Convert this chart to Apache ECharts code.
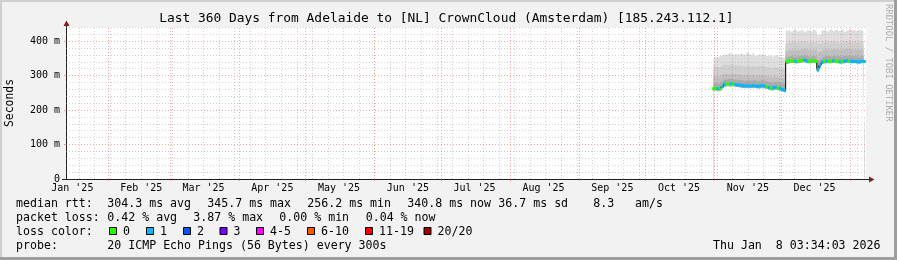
<!DOCTYPE html>
<html><head><meta charset="utf-8">
<script src="https://cdn.jsdelivr.net/npm/echarts@6/dist/echarts.min.js"></script>
<style>html,body{margin:0;padding:0;background:#f2f2f2}#c{width:897px;height:260px}</style>
</head><body><div id="c"></div>
<script>
// ---------------- data ----------------
const firstDay = '2025-10-31';   // first daily sample (one value per day)
const median = [
  262,263,262,261,268,275,276,275,276,275,274,273,272,
  271,270,271,270,270,271,270,269,270,271,269,268,
  265,263,265,266,264,262,260,257,
  340,342,343,342,341,342,343,344,346,342,341,342,343,341,
  318,331,
  340,341,342,341,342,343,342,341,340,341,342,343,342,341,342,341,340,341,342,341
];
const loss = [
  0,0,1,0,1,1,0,0,1,0,1,1,1,
  1,1,1,1,1,1,1,1,1,1,1,0,
  1,0,1,1,0,1,1,1,
  0,0,0,0,1,0,0,0,1,1,0,0,0,0,
  1,1,
  1,0,1,0,0,1,0,0,1,0,1,1,0,1,1,1,1,1,1,1
];
const smokeMin = [
  256,257,256,255,260,268,269,268,269,268,267,266,265,
  264,263,264,263,263,264,263,262,263,264,262,261,
  258,256,258,259,257,255,253,251,
  334,336,337,336,335,336,337,338,339,336,335,336,337,335,
  310,322,
  334,335,336,335,336,337,336,335,334,335,336,337,336,335,336,335,334,335,336,335
];
const smokeQ1 = [
  276,278,277,276,283,289,290,290,291,289,289,288,287,
  286,285,287,285,286,287,285,284,286,287,284,283,
  281,279,281,282,280,278,277,275,
  354,356,357,355,355,356,357,358,360,356,355,356,357,355,
  345,350,
  355,356,357,356,357,358,357,356,355,356,357,358,357,356,357,356,355,356,357,356
];
const smokeQ2 = [
  296,299,298,297,302,306,305,304,306,303,304,302,303,
  301,300,303,301,300,302,299,300,301,302,300,299,
  298,296,297,298,296,295,294,292,
  372,374,376,373,374,375,376,377,378,374,373,375,376,374,
  368,370,
  374,375,377,375,376,378,376,375,374,376,377,378,376,375,377,375,374,376,377,375
];
const smokeQ3 = [
  322,326,325,324,329,333,331,330,334,329,331,328,330,
  327,326,330,327,326,329,325,327,328,329,326,325,
  324,322,323,325,322,321,320,318,
  394,396,398,395,396,397,398,399,400,396,395,397,398,396,
  392,393,
  396,397,399,396,398,400,397,396,395,398,399,400,397,396,399,396,395,398,399,396
];
const smokeMax = [
  350,354,352,356,358,362,360,364,367,361,363,360,365,
  362,359,366,361,358,364,357,362,360,363,358,356,
  359,355,357,360,355,354,352,350,
  430,434,428,433,436,429,431,435,427,432,430,426,433,429,
  418,420,
  431,435,428,432,437,430,434,429,433,436,428,431,435,430,433,428,432,434,429,431
];
const monthLabels = ["Jan '25","Feb '25","Mar '25","Apr '25","May '25","Jun '25","Jul '25","Aug '25","Sep '25","Oct '25","Nov '25","Dec '25"];
const yTickValues = [0,100,200,300,400];
const yTickLabels = ['0','100 m','200 m','300 m','400 m'];
const lossColors = ['#26ff00','#00b8ff','#0059ff','#7e00ff','#ff00ff','#ff5500','#ff0000','#a10000'];
const lossLabels = ['0','1','2','3','4-5','6-10','11-19','20/20'];
const titleText = 'Last 360 Days from Adelaide to [NL] CrownCloud (Amsterdam) [185.243.112.1]';
const medianStats = ['304.3 ms avg','345.7 ms max','256.2 ms min','340.8 ms now','36.7 ms sd','8.3','am/s'];
const lossStats = ['0.42 % avg','3.87 % max','0.00 % min','0.04 % now'];
const probeText = '20 ICMP Echo Pings (56 Bytes) every 300s';
const stampText = 'Thu Jan  8 03:34:03 2026';

// ---------------- axis ranges ----------------
const DAY = 86400000;
const tMin = Date.UTC(2025,0,13,3,34,3);
const tMax = Date.UTC(2026,0,8,3,34,3);
const yMax = 441;
const t0 = Date.parse(firstDay + 'T12:00:00Z');
const xs = median.map((_, i) => t0 + i * DAY);
const pts = arr => arr.map((v, i) => [xs[i], v]);

const monthStarts = [];
for (let m = 1; m <= 12; m++) monthStarts.push(Date.UTC(2025, m, 1));
const labelVals = monthLabels.map((_, m) => Date.UTC(2025, m, 1) + 15 * DAY);
const weekLines = [];
for (let t = Date.UTC(2025,0,19); t < tMax; t += 7 * DAY) weekLines.push(t);
const minorY = [];
for (let v = 20; v <= 440; v += 20) if (v % 100 !== 0) minorY.push(v);

const FONT = '"DejaVu Sans Mono", monospace';
const GRID = 'rgba(150,150,150,0.45)';
const MGRID = 'rgba(230,80,80,0.5)';

function band(arr, color) {
  return { type:'line', data: pts(arr), step:'middle', symbol:'none', silent:true, z:1,
    lineStyle:{ width:0 }, areaStyle:{ color: color, opacity:1 } };
}

const markData = [];
minorY.forEach(v => markData.push({ yAxis: v, lineStyle:{ color: GRID, type:[1,2], width:1 } }));
weekLines.forEach(t => markData.push({ xAxis: t, lineStyle:{ color: GRID, type:[1,2], width:1 } }));
[100,200,300,400].forEach(v => markData.push({ yAxis: v, lineStyle:{ color: MGRID, type:[1,2], width:1 } }));
monthStarts.forEach(t => markData.push({ xAxis: t, lineStyle:{ color: MGRID, type:[1,2], width:1 } }));

// ---------------- graphics (frame, texts) ----------------
const g = [];
function txt(x, y, s, size, align, extra, color) {
  const e = { type:'text', x:x, y:y, z:100, silent:true,
    style:{ text:s, font: size + 'px ' + FONT, fill: color || '#000', align: align || 'left', verticalAlign:'middle',
      textAlign: align || 'left', textVerticalAlign:'middle' } };
  if (extra) Object.assign(e, extra);
  return e;
}
g.push({ type:'rect', z:100, silent:true, shape:{x:0,y:0,width:897,height:2}, style:{fill:'#cfcfcf'} });
g.push({ type:'rect', z:100, silent:true, shape:{x:0,y:0,width:2,height:260}, style:{fill:'#cfcfcf'} });
g.push({ type:'rect', z:100, silent:true, shape:{x:0,y:257,width:897,height:3}, style:{fill:'#9e9e9e'} });
g.push({ type:'rect', z:100, silent:true, shape:{x:894,y:0,width:3,height:260}, style:{fill:'#9e9e9e'} });
g.push(txt(446.3, 19, titleText, 12.9, 'center'));
g.push(txt(10, 103, 'Seconds', 11.4, 'center', { rotation: Math.PI / 2 }));
g.push(txt(888, 4, 'RRDTOOL / TOBI OETIKER', 8.9, 'left', { rotation: -Math.PI / 2 }, '#ababab'));
// arrows & axis extensions
g.push({ type:'line', z:100, silent:true, shape:{x1:62,y1:179.5,x2:66,y2:179.5}, style:{stroke:'#1f1f1f', lineWidth:1} });
g.push({ type:'line', z:100, silent:true, shape:{x1:866,y1:179.5,x2:870,y2:179.5}, style:{stroke:'#1f1f1f', lineWidth:1} });
g.push({ type:'line', z:100, silent:true, shape:{x1:66.5,y1:27,x2:66.5,y2:24}, style:{stroke:'#1f1f1f', lineWidth:1} });
g.push({ type:'polygon', z:101, silent:true, shape:{points:[[63.5,26],[66.5,20.5],[69.5,26]]}, style:{fill:'#801f1f'} });
g.push({ type:'polygon', z:101, silent:true, shape:{points:[[869,176.5],[874.5,179.5],[869,182.5]]}, style:{fill:'#801f1f'} });
// legend rows
const rowY = [204.3, 218.3, 232.3, 246.3];
const LS = 11.6;
g.push(txt(16, rowY[0], 'median rtt:', LS));
[107.3, 207.3, 307.3, 407.3, 498.3, 593.3, 635].forEach((x, i) => g.push(txt(x, rowY[0], medianStats[i], LS)));
g.push(txt(16, rowY[1], 'packet loss:', LS));
[107.3, 193.3, 279.3, 365.7].forEach((x, i) => g.push(txt(x, rowY[1], lossStats[i], LS)));
g.push(txt(16, rowY[2], 'loss color:', LS));
[109, 146, 183, 219.5, 256, 307, 365, 423.5].forEach((x, i) => {
  g.push({ type:'rect', z:100, silent:true, shape:{x:x+0.5, y:227.5, width:7, height:7},
    style:{ fill: lossColors[i], stroke:'#000', lineWidth:1 } });
  g.push(txt(x + 14, rowY[2], lossLabels[i], LS));
});
g.push(txt(16, rowY[3], 'probe:', LS));
g.push(txt(107.3, rowY[3], probeText, LS));
g.push(txt(880.5, rowY[3], stampText, LS, 'right'));

const option = {
  animation: false,
  backgroundColor: '#f2f2f2',
  grid: { left:66, right:31, top:27, bottom:81, show:true, backgroundColor:'#ffffff', borderWidth:0 },
  xAxis: {
    type:'value', min:tMin, max:tMax,
    axisLine:{ show:true, lineStyle:{ color:'#1f1f1f', width:1 } },
    axisTick:{ show:true, length:2, customValues: monthStarts, lineStyle:{ color: MGRID } },
    splitLine:{ show:false },
    axisLabel:{ show:true, customValues: labelVals, margin:4, fontSize:10, fontFamily: FONT, color:'#000',
      formatter: v => { const i = labelVals.indexOf(v); return i >= 0 ? monthLabels[i] : ''; } }
  },
  yAxis: {
    type:'value', min:0, max:yMax,
    axisLine:{ show:true, lineStyle:{ color:'#1f1f1f', width:1 } },
    axisTick:{ show:true, length:2, customValues: yTickValues, lineStyle:{ color: MGRID } },
    splitLine:{ show:false },
    axisLabel:{ show:true, customValues: yTickValues, margin:6, fontSize:10, fontFamily: FONT, color:'#000',
      formatter: v => { const i = yTickValues.indexOf(v); return i >= 0 ? yTickLabels[i] : ''; } }
  },
  series: [
    band(smokeMax, '#dedede'),
    band(smokeQ3, '#d0d0d0'),
    band(smokeQ2, '#c0c0c0'),
    band(smokeQ1, '#ababab'),
    band(smokeMin, '#ffffff'),
    { type:'line', data:[], z:3, silent:true, symbol:'none',
      markLine:{ silent:true, symbol:['none','none'], label:{show:false}, animation:false, data: markData } },
    { type:'line', data: pts(median), step:'middle', symbol:'none', z:4, silent:true,
      lineStyle:{ color:'#000', width:1 } },
    { type:'scatter', data: pts(median), symbol:'rect', symbolSize:[2.6, 3], z:5, silent:true,
      itemStyle:{ opacity:1, color: p => lossColors[loss[p.dataIndex]] } }
  ],
  graphic: g
};
const chart = echarts.init(document.getElementById('c'), null, { renderer:'canvas', width:897, height:260 });
chart.setOption(option);
</script>
</body></html>
